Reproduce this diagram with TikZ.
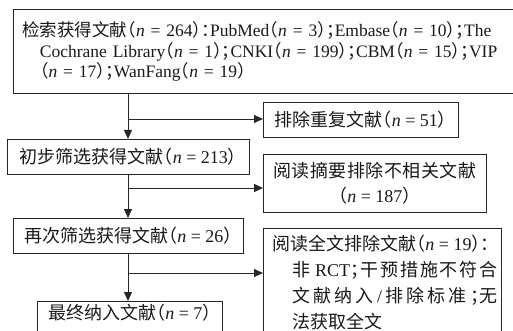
\documentclass[tikz,border=0pt]{standalone}
\usepackage{fontspec}
\setmainfont{Liberation Serif}
\newfontfamily\zhfont[RawFeature=+halt]{Noto Sans CJK SC}
\newcommand{\zh}[1]{{\zhfont #1}}
\newcommand{\nn}{\textit{n}}
\newcommand{\gap}{\hspace{0pt plus 1fil}}
\newcommand{\spread}[2]{\makebox[#1][s]{#2}}
\usetikzlibrary{arrows.meta}

\begin{document}
\begin{tikzpicture}
[x=1pt,y=-1pt,
  box/.style={draw=black!85,line width=0.8pt,text=black!90,inner sep=0pt,anchor=north west,
    font=\fontsize{18}{22}\selectfont},%
  line/.style={draw=black!85,line width=0.8pt},%
  arr/.style={line,-{Triangle[length=9pt,width=8pt]}}]
\useasboundingbox (0,0) rectangle (513,331);
\clip (0,0) rectangle (513,331);
%% boxes
\node[box,minimum height=84pt,text width=512pt,inner xsep=9pt,align=left,
  font=\fontsize{17.5}{20.2}\selectfont] (search) at (13,9)
  {\spread{485pt}{\zh{检索获得文献（}\nn{} = 264\zh{）：}PubMed\zh{（}\nn{} = 3\zh{）；}Embase\zh{（}\nn{} = 10\zh{）；}The}\\
   \hspace*{1em}\mbox{Cochrane Library\zh{（}\nn{} = 1\zh{）；}CNKI\zh{（}\nn{} = 199\zh{）；}CBM\zh{（}\nn{} = 15\zh{）；}VIP}\\
   \hspace*{1em}\mbox{\zh{（}\nn{} = 17\zh{）；}WanFang\zh{（}\nn{} = 19\zh{）}}};
\node[box,minimum width=242pt,minimum height=35pt] (first) at (7,139)
  {\zh{初步筛选获得文献（}\nn{} = 213\zh{）}};
\node[box,minimum width=230pt,minimum height=35pt] (second) at (13,218)
  {\zh{再次筛选获得文献（}\nn{} = 26\zh{）}};
\node[box,minimum width=185pt,inner ysep=4pt,text height=14pt,text depth=40pt] (final) at (37,301)
  {\zh{最终纳入文献（}\nn{} = 7\zh{）}};
\node[box,minimum width=195pt,minimum height=35pt] (dup) at (263,102)
  {\zh{排除重复文献（}\nn{} = 51\zh{）}};
\node[box,minimum width=223pt,minimum height=58pt,align=center,font=\fontsize{18}{25}\selectfont] (abs) at (263,154)
  {\spread{203pt}{\zh{阅\gap 读\gap 摘\gap 要\gap 排\gap 除\gap 不\gap 相\gap 关\gap 文\gap 献}}\\
   \mbox{\zh{（}\nn{} = 187\zh{）}}};
\node[box,minimum width=238pt,inner xsep=9pt,inner ysep=8pt,text height=14pt,text depth=110pt,
  font=\fontsize{18}{26}\selectfont] (full) at (263,228)
  {\parbox[t]{220pt}{\mbox{\zh{阅读全文排除文献（}\nn{} = 19\zh{）：}}\\
   \hspace*{1.1em}\spread{205pt}{\zh{非}\hspace{5pt}RCT\zh{；\gap 干\gap 预\gap 措\gap 施\gap 不\gap 符\gap 合}}\\
   \hspace*{1.1em}\spread{205pt}{\zh{文\gap 献\gap 纳\gap 入}\gap/\gap\zh{排\gap 除\gap 标\gap 准\gap ；无}}\\
   \hspace*{1.1em}\mbox{\zh{法获取全文}}}};
%% junctions on the main line
\foreach \j/\y in {j1/119, j2/188, j3/273}
  \coordinate (\j) at (128,\y);
%% connectors
\foreach \a/\b/\j/\c in {search/first/j1/dup, first/second/j2/abs, second/final/j3/full}
{
  \draw[arr] (\a.south -| \j) -- (\b.north -| \j);
  \draw[arr] (\j) -- (\j -| \c.west);
}
\end{tikzpicture}
\end{document}
